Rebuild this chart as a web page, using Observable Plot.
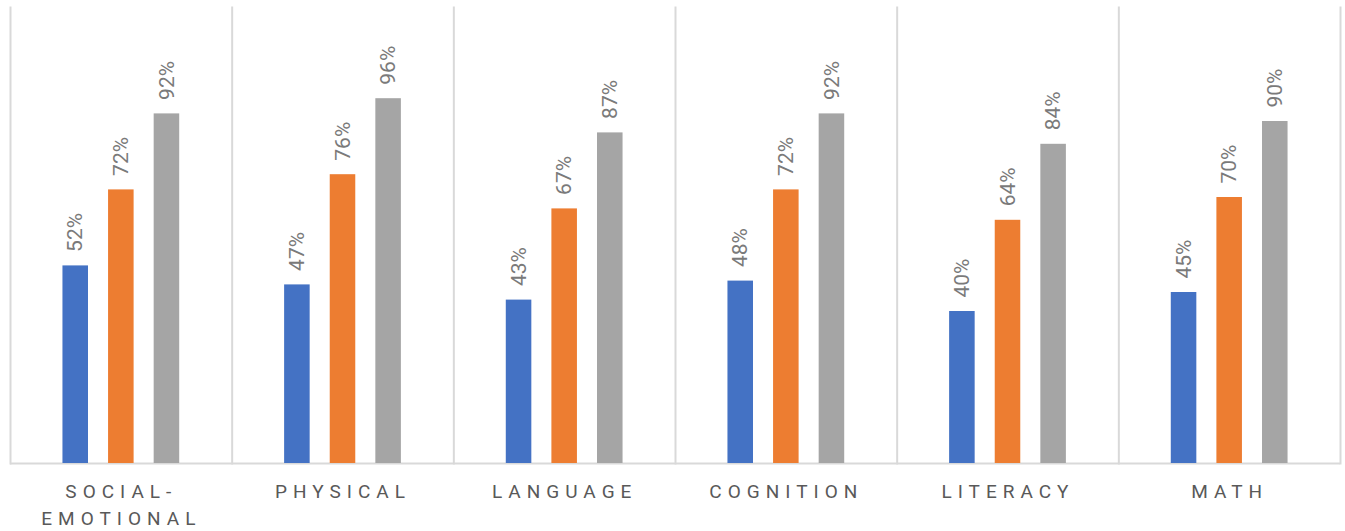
<!DOCTYPE html>
<html>
<head>
<meta charset="utf-8">
<script src="https://cdn.jsdelivr.net/npm/d3@7"></script>
<script src="https://cdn.jsdelivr.net/npm/@observablehq/plot@0.6"></script>
<style>
  html, body { margin: 0; padding: 0; background: #fff; }
  #chart svg { display: block; }
  #chart [aria-label="fx-axis tick label"] text { letter-spacing: 6px; }
</style>
</head>
<body>
<div id="chart"></div>
<script>
const categories = ["SOCIAL-EMOTIONAL", "PHYSICAL", "LANGUAGE", "COGNITION", "LITERACY", "MATH"];
const seriesNames = ["Series 1", "Series 2", "Series 3"];
const series1 = [52, 47, 43, 48, 40, 45];
const series2 = [72, 76, 67, 72, 64, 70];
const series3 = [92, 96, 87, 92, 84, 90];
const colors = ["#4472C4", "#ED7D31", "#A5A5A5"];

const seriesValues = [series1, series2, series3];
const data = [];
categories.forEach((c, i) => {
  seriesNames.forEach((s, j) => {
    data.push({category: c, series: s, value: seriesValues[j][i]});
  });
});
const lastCategory = categories[categories.length - 1];

const chart = Plot.plot({
  width: 1345,
  height: 531,
  marginTop: 7,
  marginBottom: 68,
  marginLeft: 10,
  marginRight: 5,
  style: {fontFamily: "Roboto", background: "#fff"},
  fx: {domain: categories, padding: 0, label: null, round: false},
  x: {domain: seriesNames, paddingInner: 0.44, paddingOuter: 1.15, axis: null, round: false},
  y: {domain: [0, 120], axis: null},
  color: {domain: seriesNames, range: colors},
  marks: [
    Plot.frame({anchor: "left", stroke: "#d9d9d9", strokeWidth: 2}),
    Plot.frame({anchor: "right", stroke: "#d9d9d9", strokeWidth: 2, fx: () => lastCategory}),
    Plot.ruleY([0], {stroke: "#d9d9d9", strokeWidth: 2}),
    Plot.barY(data, {fx: "category", x: "series", y: "value", fill: "series"}),
    Plot.text(data, {
      fx: "category", x: "series", y: "value",
      text: d => d.value + "%",
      rotate: -90, textAnchor: "start", dy: -14,
      fill: "#7a7a7a", fontSize: 21
    }),
    Plot.axisFx({
      anchor: "bottom", tickSize: 0, tickPadding: 16, fontSize: 19,
      lineHeight: 1.4, fill: "#595959", label: null,
      tickFormat: d => d.replace("-", "-\n")
    })
  ]
});
document.getElementById("chart").append(chart);
</script>
</body>
</html>
